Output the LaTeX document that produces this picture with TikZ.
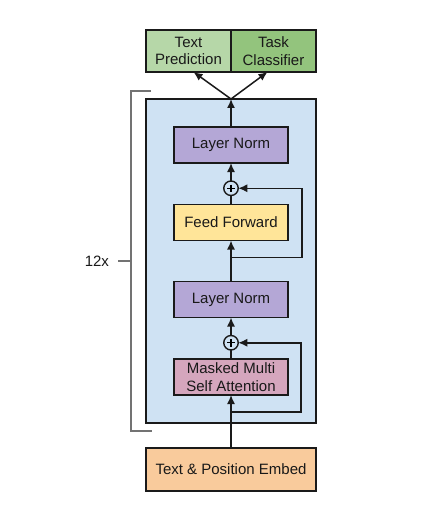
\documentclass[tikz,border=0pt]{standalone}
\usepackage{fontspec}
\setmainfont{Liberation Sans}
\usepackage{tikz}
\usetikzlibrary{
    positioning,
    fit,
    arrows.meta,
    calc,
    backgrounds
}
\definecolor{decoderblue}{HTML}{CFE2F3}
\definecolor{normpurple}{HTML}{B4A7D6}
\definecolor{ffyellow}{HTML}{FFE599}
\definecolor{attnpink}{HTML}{D5A6BD}
\definecolor{embedorange}{HTML}{F9CB9C}
\definecolor{predgreen}{HTML}{B6D7A8}
\definecolor{taskgreen}{HTML}{93C47D}
\definecolor{edgedark}{HTML}{1A1A1A}

\begin{document}
\begin{tikzpicture}[
        x=1pt, y=1pt,
        node distance=18pt,
        every node/.style={font=\fontsize{15}{17.5}\selectfont, text=black!90, outer sep=0pt},
        block/.style={rectangle, draw=edgedark, line width=1.5pt, minimum width=114pt, minimum height=36pt, align=center, inner sep=2pt},
        norm_block/.style={block, fill=normpurple},
        ff_block/.style={block, fill=ffyellow},
        attn_block/.style={block, fill=attnpink},
        wide_block/.style={block, minimum width=170pt, minimum height=43pt},
        out_block/.style={block, minimum width=85pt, minimum height=42pt},
        add/.style={circle, draw=edgedark, line width=1.4pt, fill=decoderblue, minimum size=14.5pt, inner sep=0pt},
        arrow/.style={-{Latex[length=9pt, width=8pt]}, line width=1.5pt, draw=edgedark},
        link/.style={line width=1.5pt, draw=edgedark},
        bracket/.style={line width=1.2pt, draw=black!55}
    ]
    \useasboundingbox (0,0) rectangle (437,-508);

    % INPUT
    \node[wide_block, fill=embedorange] (embed) at (231,-469.5) {Text \& Position Embed};

    % DECODER BLOCK
    \node[attn_block, above=53pt of embed] (attn) {Masked Multi\\Self Attention};
    \node[add, above=9pt of attn] (add2) {};
    \node[norm_block, above=of add2] (norm2) {Layer Norm};
    \node[ff_block, above=41pt of norm2] (ff) {Feed Forward};
    \node[add, above=9pt of ff] (add1) {};
    \node[norm_block, above=of add1] (norm1) {Layer Norm};

    \draw[line width=1.3pt] ($(add1.west)+(3.5pt,0)$) -- ($(add1.east)+(-3.5pt,0)$)
        ($(add1.north)+(0,-3.5pt)$) -- ($(add1.south)+(0,3.5pt)$);
    \draw[line width=1.3pt] ($(add2.west)+(3.5pt,0)$) -- ($(add2.east)+(-3.5pt,0)$)
        ($(add2.north)+(0,-3.5pt)$) -- ($(add2.south)+(0,3.5pt)$);

    % Decoder zone
    \begin{scope}[on background layer]
        \node[draw=edgedark, line width=1.5pt, fill=decoderblue, inner xsep=28pt, inner ysep=28pt,
              fit=(norm1) (attn)] (decoder) {};
    \end{scope}

    % OUTPUTS
    \node[out_block, fill=predgreen, above left=27pt and 0pt of decoder.north] (pred) {Text\\Prediction};
    \node[out_block, fill=taskgreen, right=0pt of pred] (task) {Task\\Classifier};

    % Connections
    \draw[arrow] (embed.north) -- (attn.south);
    \draw[link] (attn.north) -- (add2.south);
    \draw[arrow] (add2.north) -- (norm2.south);
    \draw[arrow] (norm2.north) -- (ff.south);
    \draw[link] (ff.north) -- (add1.south);
    \draw[arrow] (add1.north) -- (norm1.south);
    \draw[arrow] (norm1.north) -- (decoder.north);
    \draw[arrow] (decoder.north) -- ([xshift=5pt]pred.south);
    \draw[arrow] (decoder.north) -- ([xshift=-6pt]task.south);

    % Residual paths
    \coordinate[below=17pt of attn] (skip2);
    \coordinate[below=17pt of ff] (skip1);
    \draw[arrow] (skip2) -- ++(70pt,0) |- (add2.east);
    \draw[arrow] (skip1) -- ++(71pt,0) |- (add1.east);

    % Repetition bracket
    \draw[bracket] ([shift={(5pt,8pt)}]decoder.north west) -- ++(-20pt,0)
        |- ([shift={(6pt,-8pt)}]decoder.south west);
    \coordinate (bracket_mid) at ([xshift=-15pt]decoder.west);
    \coordinate[left=13pt of bracket_mid] (tick_end);
    \draw[bracket] (bracket_mid) -- (tick_end);
    \node[left=9pt of tick_end, inner sep=0pt] (reps) {12x};

\end{tikzpicture}
\end{document}
